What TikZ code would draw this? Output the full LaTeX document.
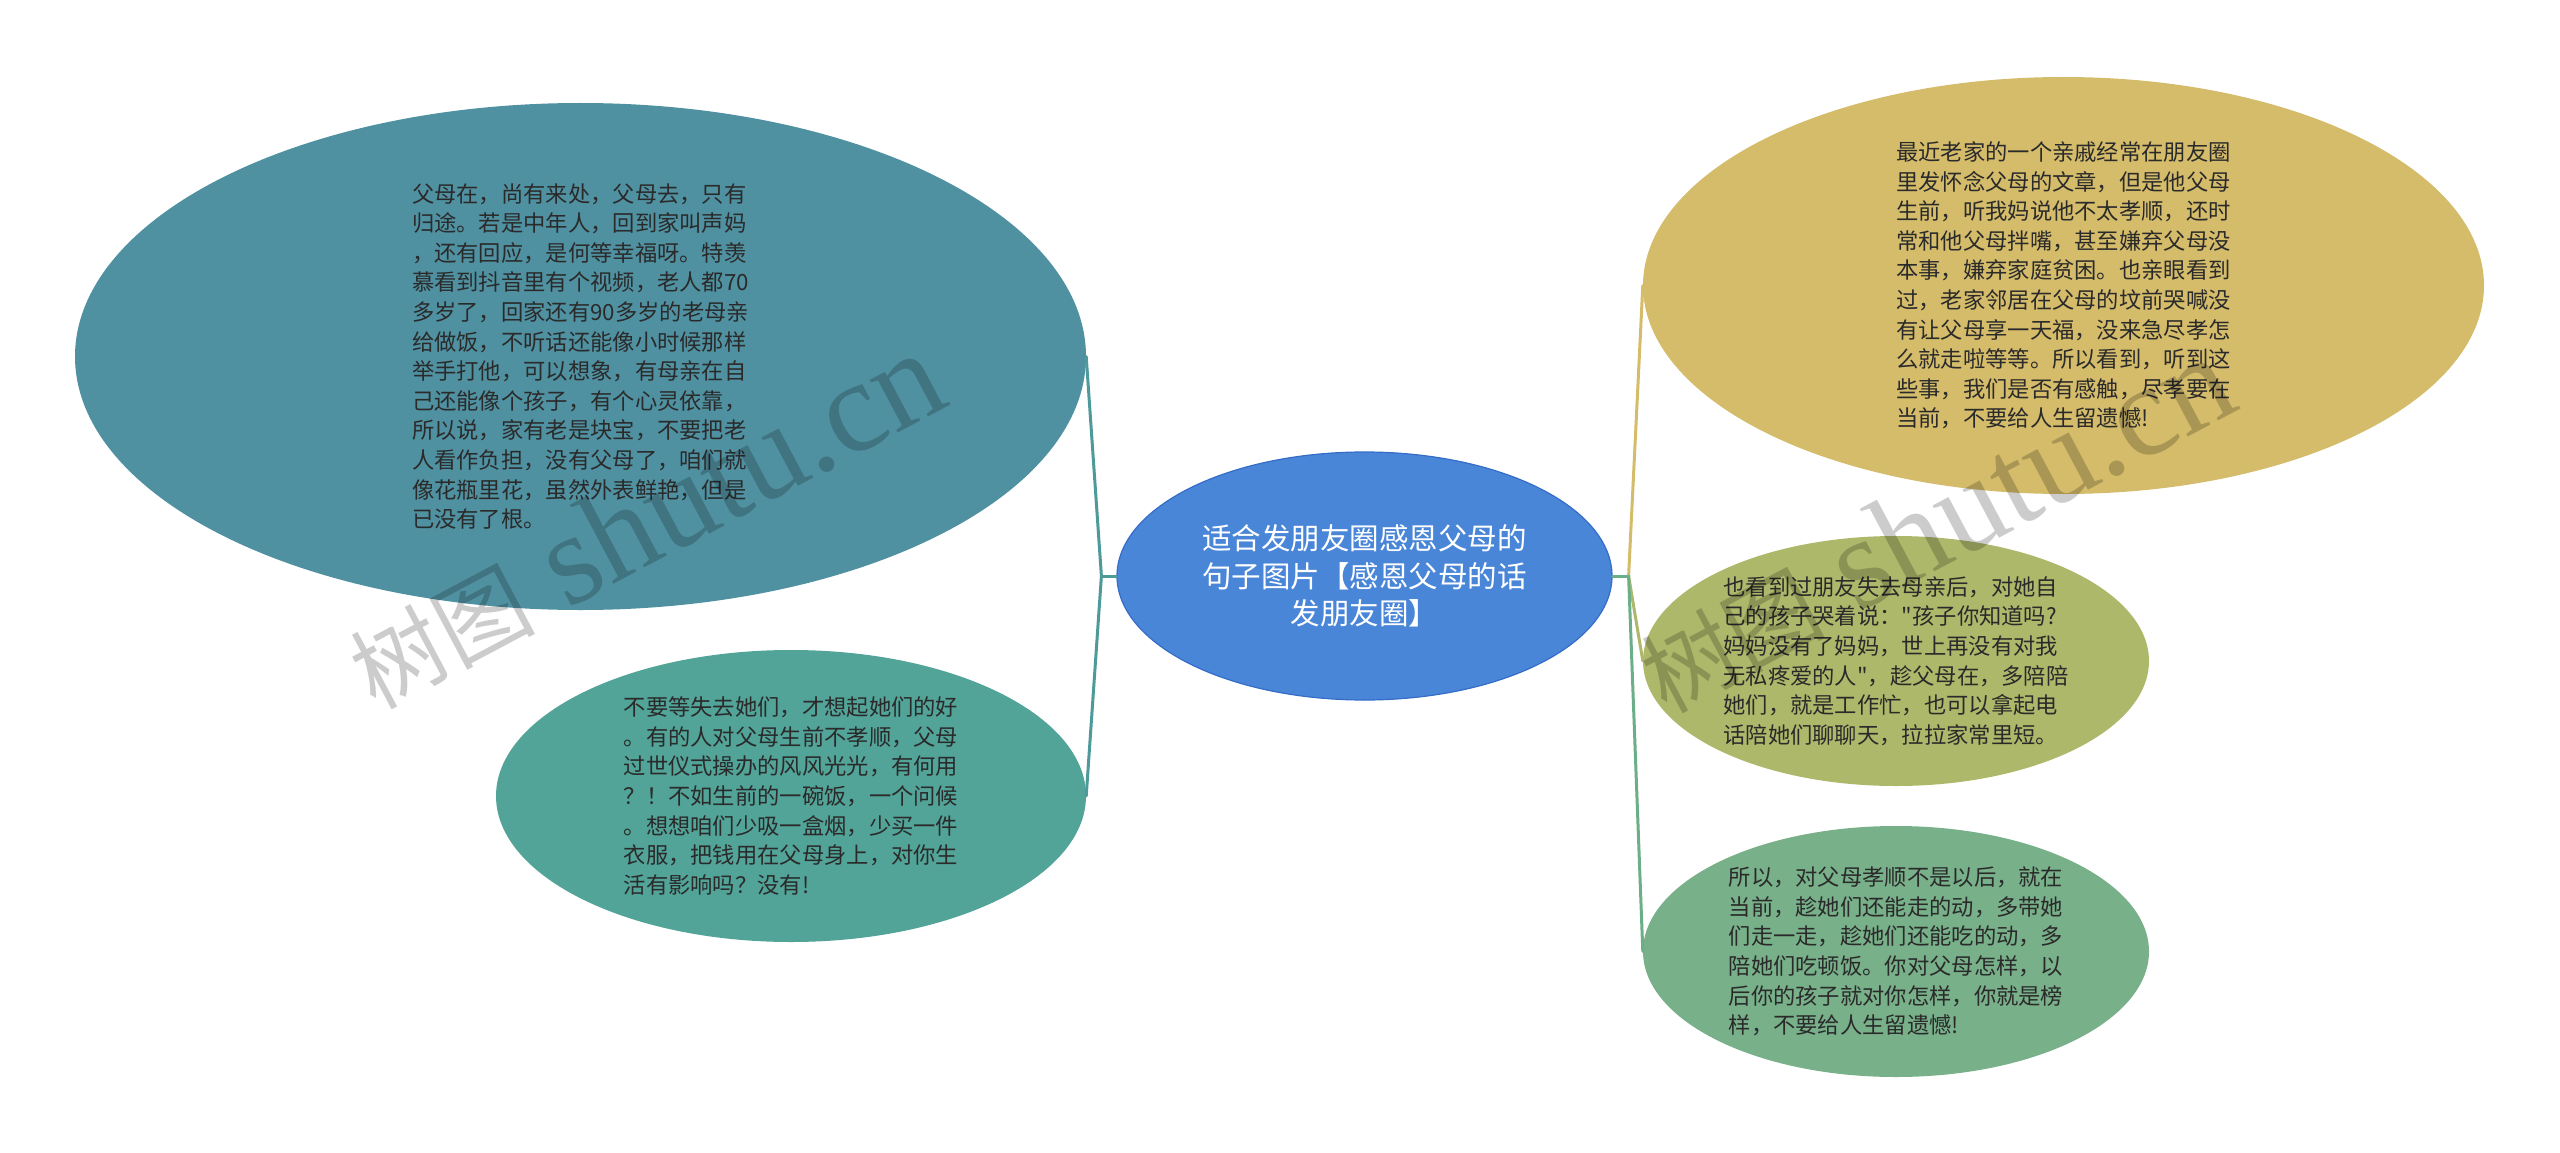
\documentclass[tikz,border=0pt]{standalone}
\usepackage{fontspec}
\setmainfont{Noto Sans CJK SC}[Ligatures=TeXOff]
\newfontfamily\wmlatin{Liberation Serif}
\usetikzlibrary{shapes.geometric}
\definecolor{cSteel}{RGB}{80,145,161}
\definecolor{cTeal}{RGB}{82,163,152}
\definecolor{cBlue}{RGB}{74,134,216}
\definecolor{cBlueEdge}{RGB}{52,108,200}
\definecolor{cGold}{RGB}{212,188,107}
\definecolor{cOlive}{RGB}{174,184,106}
\definecolor{cGreen}{RGB}{120,176,138}
\definecolor{cLinkL}{RGB}{78,154,154}
\definecolor{cLinkR}{RGB}{108,174,136}
\definecolor{cText}{RGB}{42,42,42}
\begin{document}
\begin{tikzpicture}[x=1pt, y=-1pt, line join=round, line cap=round,
	bubble/.style={ellipse, inner sep=0pt, align=left, text=cText,
		font=\fontsize{22.3}{29.6}\selectfont},
	link/.style={line width=3pt},
	watermark/.style={rotate=28, text=black, text opacity=0.2, inner sep=0pt}]
	\useasboundingbox (0,0) rectangle (2560,1153);
	% centre
	\node[ellipse, fill=cBlue, draw=cBlueEdge, line width=1.2pt, minimum width=495pt, minimum height=248pt,
		align=center, text=white, font=\fontsize{29.5}{37.5}\selectfont] (root) at (1364.5,576)
		{适合发朋友圈感恩父母的\\
		句子图片【感恩父母的话\\
		发朋友圈】};
	% left side
	\node[bubble, fill=cSteel, minimum width=1011pt, minimum height=507pt] (fumuzai) at (580.5,356.5)
		{父母在，尚有来处，父母去，只有\\
		归途。若是中年人，回到家叫声妈\\
		，还有回应，是何等幸福呀。特羡\\
		慕看到抖音里有个视频，老人都70\\
		多岁了，回家还有90多岁的老母亲\\
		给做饭，不听话还能像小时候那样\\
		举手打他，可以想象，有母亲在自\\
		己还能像个孩子，有个心灵依靠，\\
		所以说，家有老是块宝，不要把老\\
		人看作负担，没有父母了，咱们就\\
		像花瓶里花，虽然外表鲜艳，但是\\
		已没有了根。};
	\node[bubble, fill=cTeal, minimum width=590pt, minimum height=292pt] (shiqu) at (791,796)
		{不要等失去她们，才想起她们的好\\
		。有的人对父母生前不孝顺，父母\\
		过世仪式操办的风风光光，有何用\\
		？！不如生前的一碗饭，一个问候\\
		。想想咱们少吸一盒烟，少买一件\\
		衣服，把钱用在父母身上，对你生\\
		活有影响吗？没有!};
	% right side
	\node[bubble, fill=cGold, minimum width=841pt, minimum height=417pt] (qinqi) at (2063.5,285.5)
		{最近老家的一个亲戚经常在朋友圈\\
		里发怀念父母的文章，但是他父母\\
		生前，听我妈说他不太孝顺，还时\\
		常和他父母拌嘴，甚至嫌弃父母没\\
		本事，嫌弃家庭贫困。也亲眼看到\\
		过，老家邻居在父母的坟前哭喊没\\
		有让父母享一天福，没来急尽孝怎\\
		么就走啦等等。所以看到，听到这\\
		些事，我们是否有感触，尽孝要在\\
		当前，不要给人生留遗憾!};
	\node[bubble, fill=cOlive, minimum width=506pt, minimum height=250pt] (pengyou) at (1896,661)
		{也看到过朋友失去母亲后，对她自\\
		己的孩子哭着说："孩子你知道吗?\\
		妈妈没有了妈妈，世上再没有对我\\
		无私疼爱的人"，趁父母在，多陪陪\\
		她们，就是工作忙，也可以拿起电\\
		话陪她们聊聊天，拉拉家常里短。};
	\node[bubble, fill=cGreen, minimum width=506pt, minimum height=251pt] (xiaoshun) at (1896,951.5)
		{所以，对父母孝顺不是以后，就在\\
		当前，趁她们还能走的动，多带她\\
		们走一走，趁她们还能吃的动，多\\
		陪她们吃顿饭。你对父母怎样，以\\
		后你的孩子就对你怎样，你就是榜\\
		样，不要给人生留遗憾!};
	% connectors
	\draw[link, cLinkL] (root.west) -- ++(-15,0) coordinate (lj);
	\foreach \tgt in {fumuzai, shiqu}
	\draw[link, cLinkL] (lj) -- (\tgt.east);
	\draw[link, cLinkR] (root.east) -- ++(16,0) coordinate (rj);
	\foreach \tgt/\col in {qinqi/cGold, pengyou/cOlive, xiaoshun/cLinkR}
	\draw[link, \col] (rj) -- (\tgt.west);
	% watermarks
	\node[watermark] (wmleft) at (645,521)
		{{\fontsize{92}{92}\selectfont 树图}{\wmlatin\fontsize{130}{130}\selectfont\ shutu.cn}};
	\node[watermark] (wmright) at (1935,525)
		{{\fontsize{92}{92}\selectfont 树图}{\wmlatin\fontsize{130}{130}\selectfont\ shutu.cn}};
\end{tikzpicture}
\end{document}
